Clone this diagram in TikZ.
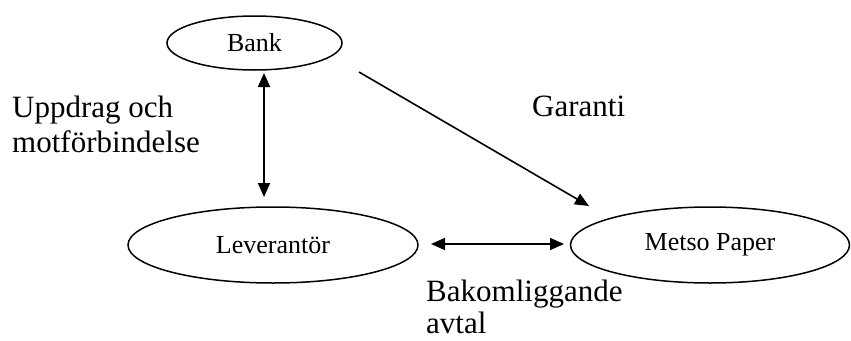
\documentclass[tikz,border=0pt]{standalone}
\usepackage{fontspec}
\setmainfont{Liberation Serif}
\usetikzlibrary{shapes.geometric,arrows.meta}
\begin{document}
\begin{tikzpicture}[x=1pt,y=-1pt,
  ell/.style={draw,ellipse,line width=1.5pt,inner sep=0pt,font=\fontsize{26}{30}\selectfont},
  lbl/.style={anchor=base west,inner sep=0pt,font=\fontsize{31}{35}\selectfont},
  conn/.style={line width=1.6pt,-{Triangle[length=14pt,width=12pt]}},
  dconn/.style={line width=1.8pt,{Triangle[length=14pt,width=12pt]}-{Triangle[length=14pt,width=12pt]}}]
\useasboundingbox (0,0) rectangle (851,340);
\node[ell,minimum width=175,minimum height=54] (bank) at (254.5,43) {Bank};
\node[ell,minimum width=290,minimum height=76] (lev) at (273,245) {Leverantör};
\node[ell,minimum width=279,minimum height=76] (met) at (710,245) {Metso Paper};
\coordinate (v1) at (264,73);
\coordinate (v2) at (264,197);
\coordinate (d1) at (359,72);
\coordinate (d2) at (589,206);
\coordinate (h1) at (431,244);
\coordinate (h2) at (564,244);
\draw[dconn] (v1) -- (v2);
\draw[conn] (d1) -- (d2);
\draw[dconn] (h1) -- (h2);
\node[lbl] (up1) at (12,117) {Uppdrag och};
\node[lbl] (up2) at (12,152) {motförbindelse};
\node[lbl] (gar) at (532,116) {Garanti};
\node[lbl] (bak1) at (426,301) {Bakomliggande};
\node[lbl] (bak2) at (426,333) {avtal};
\end{tikzpicture}
\end{document}
